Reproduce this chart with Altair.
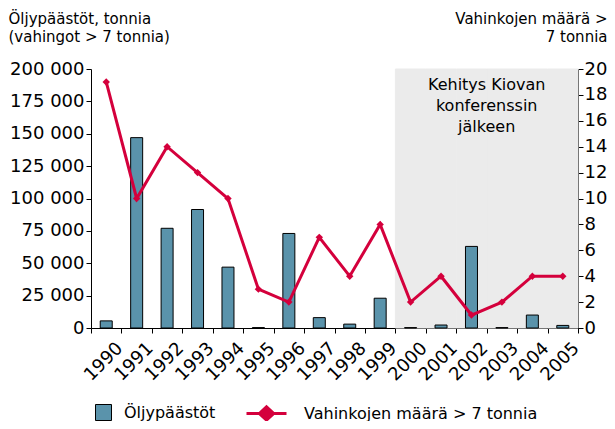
import altair as alt
import pandas as pd

# ---- data ----
years = ["1990", "1991", "1992", "1993", "1994", "1995", "1996", "1997",
         "1998", "1999", "2000", "2001", "2002", "2003", "2004", "2005"]
spills = [5500, 147000, 77000, 91500, 47000, 300, 73000, 8000,
          3000, 23000, 300, 2300, 63000, 300, 10000, 2000]
counts = [19, 10, 14, 12, 10, 3, 2, 7, 4, 8, 2, 4, 1, 2, 4, 4]

shade_years = ["2000", "2001", "2002", "2003", "2004", "2005"]
shade_top = 200000
note_year = "2002"
note_text = "Kehitys Kiovan\nkonferenssin\njälkeen"

bar_label = "Öljypäästöt"
line_label = "Vahinkojen määrä > 7 tonnia"
left_title = ["Öljypäästöt, tonnia", "(vahingot > 7 tonnia)"]
right_title = ["Vahinkojen määrä >", "7 tonnia"]
left_ticks = [0, 25000, 50000, 75000, 100000, 125000, 150000, 175000, 200000]
right_ticks = [0, 2, 4, 6, 8, 10, 12, 14, 16, 18, 20]

bar_color = "#5a93ab"
line_color = "#d4003c"
shade_color = "#ebebeb"
FONT = "DejaVu Sans"
LABEL_SIZE = 18

df = pd.DataFrame({"year": years, "spill": spills, "count": counts,
                   "s1": bar_label, "s2": line_label})
shade_df = pd.DataFrame({"year": shade_years, "spill": [shade_top] * len(shade_years)})
note_df = pd.DataFrame({"year": [note_year], "spill": [shade_top], "text": [note_text]})

xscale = alt.Scale(domain=years, paddingInner=0, paddingOuter=0)
xaxis = alt.Axis(title=None, labelAngle=315, labelAlign="right", labelBaseline="top",
                 labelFontSize=LABEL_SIZE, labelPadding=6, labelOffset=7,
                 tickBand="extent", tickSize=5,
                 domainColor="black", tickColor="black", labelColor="black")

lscale = alt.Scale(domain=[0, 200000])
laxis = alt.Axis(values=left_ticks, grid=False,
                 labelExpr="replace(format(datum.value, ','), ',', ' ')",
                 labelFontSize=LABEL_SIZE, labelPadding=2, tickSize=5,
                 domainColor="black", tickColor="black", labelColor="black",
                 title=left_title, titleAngle=0, titleAlign="left",
                 titleBaseline="alphabetic", titleX=-83, titleY=-46,
                 titleFontSize=15, titleFontWeight="normal", titleLineHeight=18,
                 titleColor="black")

raxis = alt.Axis(orient="right", values=right_ticks, grid=False,
                 labelFontSize=LABEL_SIZE, labelPadding=1, tickSize=5,
                 domainColor="black", tickColor="black", labelColor="black",
                 title=right_title, titleAngle=0, titleAlign="right",
                 titleBaseline="alphabetic", titleX=29, titleY=-46,
                 titleFontSize=15, titleFontWeight="normal", titleLineHeight=18,
                 titleColor="black")

shade = alt.Chart(shade_df).mark_bar(
    color=shade_color, stroke=shade_color, strokeWidth=1,
    width=alt.RelativeBandSize(1),
).encode(
    x=alt.X("year:O", scale=xscale, axis=xaxis),
    y=alt.Y("spill:Q", scale=lscale, axis=laxis),
)

note = alt.Chart(note_df).mark_text(
    align="center", baseline="top", dy=8, fontSize=16, lineHeight=21,
    lineBreak="\n", color="black", font=FONT,
).encode(
    x=alt.X("year:O", bandPosition=1, scale=xscale, axis=xaxis),
    y=alt.Y("spill:Q", scale=lscale, axis=laxis),
    text="text:N",
)

bars = alt.Chart(df).mark_bar(size=12, stroke="black", strokeWidth=1).encode(
    x=alt.X("year:O", scale=xscale, axis=xaxis),
    y=alt.Y("spill:Q", scale=lscale, axis=laxis),
    fill=alt.Fill("s1:N", scale=alt.Scale(domain=[bar_label], range=[bar_color]),
                  legend=alt.Legend(title=None, orient="none", legendX=4, legendY=335,
                                    symbolType="square", symbolSize=256,
                                    symbolStrokeColor="black", symbolStrokeWidth=1,
                                    labelFontSize=16, labelOffset=12, padding=0,
                                    labelLimit=0, labelColor="black")),
)

legend_path = ("M-1,0L1,0M-0.36,0L0,-0.33L0.36,0L0,0.33Z"
               "M-0.2,0L0,-0.18L0.2,0L0,0.18Z")

line = alt.Chart(df).mark_line(
    strokeWidth=3,
    point=alt.OverlayMarkDef(shape="diamond", size=55, filled=True),
).encode(
    x=alt.X("year:O", scale=xscale, axis=xaxis),
    y=alt.Y("count:Q", scale=alt.Scale(domain=[0, 20]), axis=raxis),
    color=alt.Color("s2:N", scale=alt.Scale(domain=[line_label], range=[line_color]),
                    legend=alt.Legend(title=None, orient="none", legendX=154, legendY=323,
                                      symbolType=legend_path, symbolSize=1600,
                                      symbolStrokeWidth=3, labelFontSize=16,
                                      labelOffset=16, padding=0, labelLimit=0,
                                      labelColor="black")),
)

left = alt.layer(shade, note, bars)
chart = alt.layer(left, line).resolve_scale(y="independent").properties(
    width=487, height=259,
    padding={"left": 83, "top": 61, "right": 29, "bottom": 93},
    autosize=alt.AutoSizeParams(type="none"),
).configure(font=FONT).configure_view(stroke=None)

chart.save("out.html", embed_options={"renderer": "svg", "actions": False})
